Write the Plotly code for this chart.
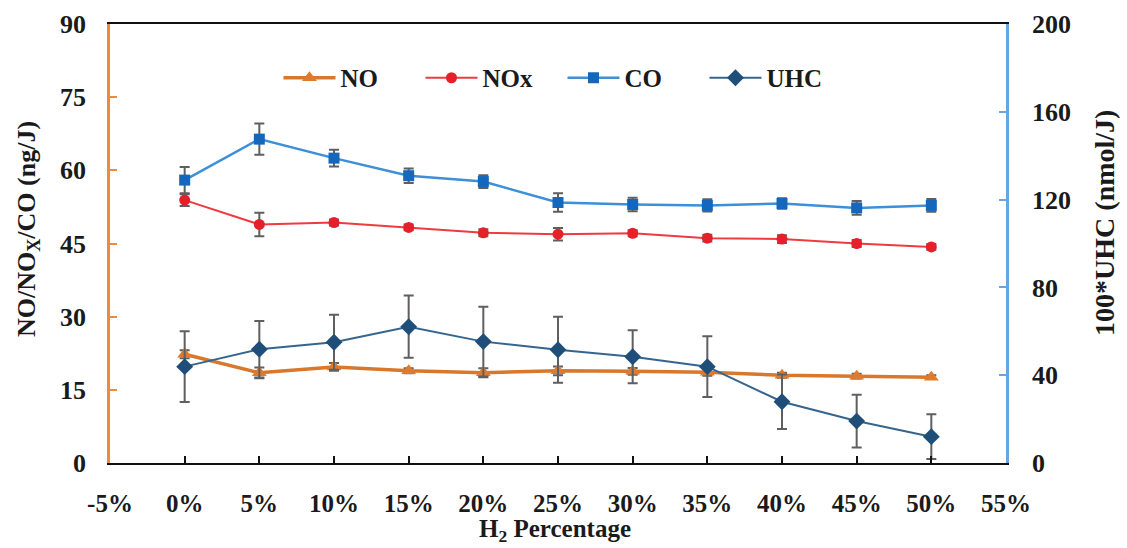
import plotly.graph_objects as go

# H2 share of the fuel (%)
h2_pct = [0, 5, 10, 15, 20, 25, 30, 35, 40, 45, 50]

# Emission indices on the left axis (ng/J)
no_vals = [22.3, 18.5, 19.7, 18.9, 18.5, 18.9, 18.8, 18.6, 18.0, 17.8, 17.6]
no_err = [0.8, 1.1, 0.8, 0.5, 0.9, 0.9, 0.7, 0.7, 0.5, 0.5, 0.4]

nox_vals = [53.9, 48.9, 49.3, 48.3, 47.2, 46.9, 47.1, 46.1, 45.9, 45.0, 44.3]
nox_err = [1.2, 2.4, 0.6, 0.6, 0.7, 1.3, 0.6, 0.7, 0.8, 0.7, 0.6]

co_vals = [58.0, 66.4, 62.5, 58.9, 57.7, 53.4, 53.0, 52.8, 53.2, 52.3, 52.8]
co_err = [2.7, 3.2, 1.7, 1.5, 1.3, 1.9, 1.4, 1.25, 1.1, 1.4, 1.3]

# Unburned hydrocarbons on the right axis (100*nmol/J)
uhc_vals = [43.9, 51.8, 55.0, 62.1, 55.3, 51.6, 48.4, 43.9, 27.9, 19.1, 12.0]
uhc_err = [16.1, 12.9, 12.5, 14.2, 15.9, 15.0, 12.1, 13.8, 12.4, 12.0, 10.2]

x_ticks = [-5, 0, 5, 10, 15, 20, 25, 30, 35, 40, 45, 50, 55]

FONT = "Liberation Serif"
INK = "#1a1a1a"
ERR_COLOR = "#5f5f5f"


def bold(size):
    return dict(family=FONT, size=size, color=INK, weight="bold")


def err(values):
    return dict(type="data", array=values, visible=True,
                color=ERR_COLOR, thickness=2, width=5)


fig = go.Figure()

fig.add_trace(go.Scatter(
    x=h2_pct, y=no_vals, name="NO", mode="lines+markers",
    line=dict(color="#D9772B", width=3.5),
    marker=dict(symbol="triangle-up", size=13, color="#E07A2C"),
    error_y=err(no_err),
))
fig.add_trace(go.Scatter(
    x=h2_pct, y=nox_vals, name="NOx", mode="lines+markers",
    line=dict(color="#EE3A40", width=2),
    marker=dict(symbol="circle", size=11, color="#E5202A"),
    error_y=err(nox_err),
))
fig.add_trace(go.Scatter(
    x=h2_pct, y=co_vals, name="CO", mode="lines+markers",
    line=dict(color="#3C8FD8", width=2.5),
    marker=dict(symbol="square", size=11, color="#1567BB"),
    error_y=err(co_err),
))
fig.add_trace(go.Scatter(
    x=h2_pct, y=uhc_vals, name="UHC", mode="lines+markers",
    line=dict(color="#35648F", width=2),
    marker=dict(symbol="diamond", size=13, color="#1F4E79"),
    error_y=err(uhc_err), yaxis="y2",
))

fig.update_layout(
    width=1127, height=548,
    margin=dict(l=110, r=121, t=24, b=85),
    plot_bgcolor="white", paper_bgcolor="white",
    font=bold(25),
    showlegend=True,
    legend=dict(
        orientation="h", x=0.505, y=0.877, xanchor="center", yanchor="middle",
        font=bold(25), itemwidth=52, bgcolor="rgba(0,0,0,0)",
        traceorder="normal", entrywidth=75,
    ),
    xaxis=dict(
        range=[-5, 55], tickvals=x_ticks,
        ticktext=[f"{v}%" for v in x_ticks],
        showline=True, linecolor="#111111", linewidth=2, mirror=True,
        ticks="inside", ticklen=7, tickwidth=1.5, tickcolor="#111111",
        showgrid=False, zeroline=False, automargin=False,
        tickfont=bold(25), ticklabelstandoff=17,
    ),
    yaxis=dict(
        range=[0, 90], dtick=15,
        showline=True, linecolor="#F0893A", linewidth=2.5,
        ticks="inside", ticklen=7, tickwidth=1.5, tickcolor="#F0893A",
        showgrid=False, zeroline=False, automargin=False,
        tickfont=bold(26), ticklabelstandoff=16,
    ),
    yaxis2=dict(
        range=[0, 200], dtick=40, overlaying="y", side="right",
        showline=True, linecolor="#6AA5DE", linewidth=2.5,
        ticks="inside", ticklen=7, tickwidth=1.5, tickcolor="#6AA5DE",
        showgrid=False, zeroline=False, automargin=False,
        tickfont=bold(26), ticklabelstandoff=18,
    ),
    annotations=[
        dict(text="H<sub>2</sub> Percentage",
             xref="paper", yref="paper", x=0.497, y=-0.1936,
             xanchor="center", yanchor="bottom", showarrow=False,
             font=bold(25)),
        dict(text="NO/NO<sub>X</sub>/CO (ng/J)", textangle=-90,
             xref="paper", yref="paper", x=-0.0915, y=0.533,
             xanchor="center", yanchor="middle", showarrow=False,
             font=bold(26)),
        dict(text="100*UHC (nmol/J)", textangle=-90,
             xref="paper", yref="paper", x=1.1105, y=0.547,
             xanchor="center", yanchor="middle", showarrow=False,
             font=bold(28)),
    ],
)

fig.write_html("out.html")
